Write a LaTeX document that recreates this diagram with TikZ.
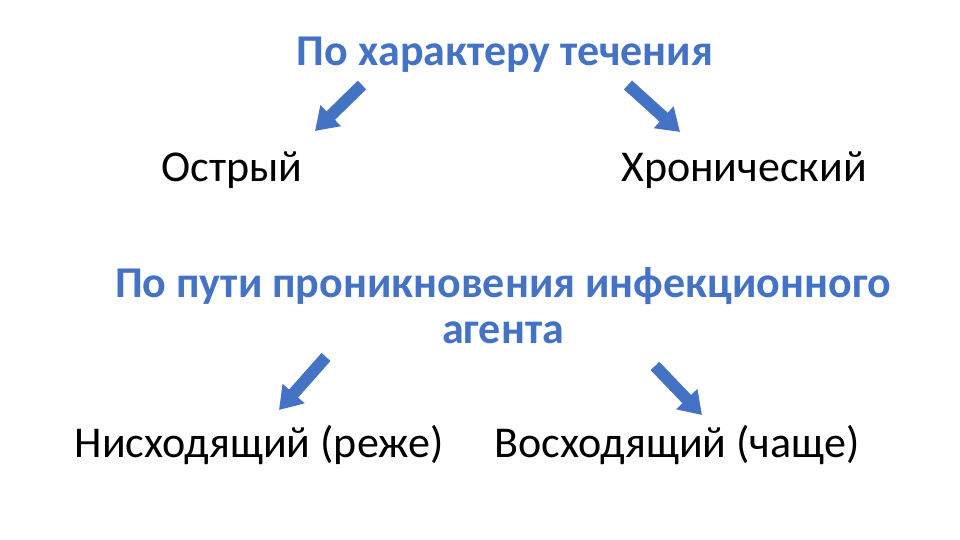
\documentclass[tikz,border=0pt]{standalone}
\usepackage{fontspec}
\setmainfont{Carlito}
\usetikzlibrary{arrows.meta}
\definecolor{slideblue}{HTML}{4472C4}

\begin{document}
\begin{tikzpicture}[x=1pt,y=-1pt,
        head node/.style={anchor=base,align=center,text=slideblue,
          font=\fontsize{44}{46}\selectfont\bfseries},
        kind node/.style={anchor=base,font=\fontsize{44}{46}\selectfont},
        block arrow/.style={slideblue,line width=12pt,
          -{Triangle[width=28pt,length=22pt]}}]
        \useasboundingbox (0,0) rectangle (960,540);
        % course of the disease
        \node[head node] (course) at (505,66) {По характеру течения};
        \node[kind node] (acute) at (232,182) {Острый};
        \node[kind node] (chronic) at (744,182) {Хронический};
        % route of the agent
        \node[head node] (route) at (503,343) {По пути проникновения инфекционного\\агента};
        \node[kind node] (down) at (259,457) {Нисходящий (реже)};
        \node[kind node] (up) at (677,457) {Восходящий (чаще)};
        \coordinate (a1) at (362,85);  \coordinate (b1) at (315,131);
        \coordinate (a2) at (628,85);  \coordinate (b2) at (680,132);
        \coordinate (a3) at (326,357); \coordinate (b3) at (279,410);
        \coordinate (a4) at (655,366); \coordinate (b4) at (702,415);
        \draw[block arrow] (a1) -- (b1);
        \draw[block arrow] (a2) -- (b2);
        \draw[block arrow] (a3) -- (b3);
        \draw[block arrow] (a4) -- (b4);
\end{tikzpicture}
\end{document}
